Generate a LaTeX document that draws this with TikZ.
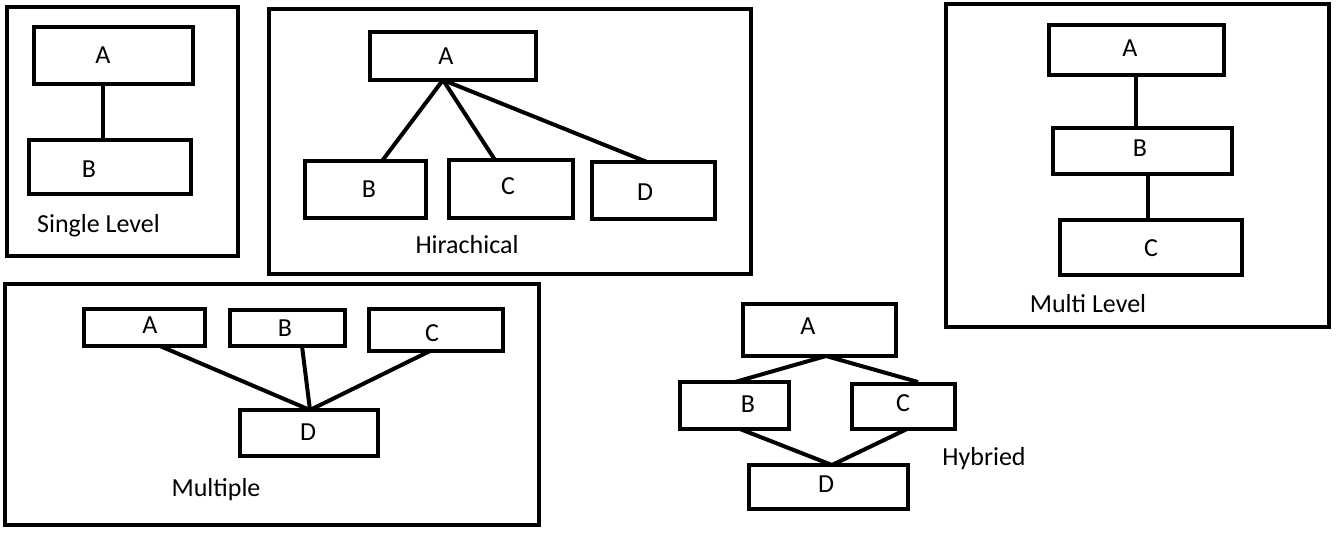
\documentclass[tikz,border=0pt]{standalone}
\usepackage{fontspec}
\setmainfont{Carlito}
\begin{document}
\begin{tikzpicture}[x=1pt,y=-1pt,
  frame/.style={draw=black,line width=4pt,rectangle,inner sep=0pt,outer sep=0pt,minimum width=#1},
  box/.style={draw=black,line width=4pt,rectangle,inner sep=0pt,outer sep=0pt},
  lbl/.style={anchor=base,inner sep=0pt,outer sep=0pt,font=\fontsize{26}{30}\selectfont},
  link/.style={draw=black,line width=4pt}]
\useasboundingbox (0,0) rectangle (1339,555);
% ---------- Single Level ----------
\node[box,minimum width=231pt,minimum height=249pt] (sF) at (122.5,131.5) {};
\node[box,minimum width=159pt,minimum height=57pt] (sA) at (113.5,55.5) {};
\node[box,minimum width=162pt,minimum height=54pt] (sB) at (110,167) {};
\node[lbl] (sAt) at (103,63) {A};
\node[lbl] (sBt) at (89,177) {B};
\node[lbl] (sT) at (98.5,232) {Single Level};
\draw[link] ([xshift=-10.5pt]sA.south) -- ([xshift=-7pt]sB.north);
% ---------- Hirachical ----------
\node[box,minimum width=482pt,minimum height=265pt] (hF) at (510,141.5) {};
\node[box,minimum width=166pt,minimum height=48pt] (hA) at (453,56) {};
\node[box,minimum width=121pt,minimum height=57pt] (hB) at (365.5,189.5) {};
\node[box,minimum width=124pt,minimum height=58pt] (hC) at (511,189) {};
\node[box,minimum width=123pt,minimum height=57pt] (hD) at (653.5,190.5) {};
\node[lbl] (hAt) at (446,64) {A};
\node[lbl] (hBt) at (369,197) {B};
\node[lbl] (hCt) at (508,194) {C};
\node[lbl] (hDt) at (645,200) {D};
\node[lbl] (hT) at (467,253) {Hirachical};
\coordinate (hApex) at ([xshift=-10pt]hA.south);
\draw[link] (hApex) -- ([xshift=16.5pt]hB.north);
\draw[link] (hApex) -- ([xshift=-16pt]hC.north);
\draw[link] (hApex) -- ([xshift=-6.5pt]hD.north);
% ---------- Multi Level ----------
\node[box,minimum width=383pt,minimum height=323pt] (mF) at (1137.5,165.5) {};
\node[box,minimum width=175pt,minimum height=50pt] (mA) at (1136.5,50) {};
\node[box,minimum width=179pt,minimum height=46pt] (mB) at (1142.5,151) {};
\node[box,minimum width=182pt,minimum height=55pt] (mC) at (1151,247.5) {};
\node[lbl] (mAt) at (1130,56) {A};
\node[lbl] (mBt) at (1140,156) {B};
\node[lbl] (mCt) at (1151,256) {C};
\node[lbl] (mT) at (1088,312) {Multi Level};
\draw[link] ([xshift=-0.5pt]mA.south) -- ([xshift=-6.5pt]mB.north);
\draw[link] ([xshift=5.5pt]mB.south) -- ([xshift=-3pt]mC.north);
% ---------- Multiple ----------
\node[box,minimum width=534pt,minimum height=241pt] (pF) at (272,404.5) {};
\node[box,minimum width=121pt,minimum height=37pt] (pA) at (144.5,327.5) {};
\node[box,minimum width=115pt,minimum height=36pt] (pB) at (287.5,328) {};
\node[box,minimum width=134pt,minimum height=42pt] (pC) at (436,330) {};
\node[box,minimum width=138pt,minimum height=46pt] (pD) at (309,433) {};
\node[lbl] (pAt) at (150,333) {A};
\node[lbl] (pBt) at (285,336) {B};
\node[lbl] (pCt) at (432,341) {C};
\node[lbl] (pDt) at (308,440) {D};
\node[lbl] (pT) at (216,496) {Multiple};
\coordinate (pApex) at ([xshift=1pt]pD.north);
\draw[link] ([xshift=15.5pt]pA.south) -- (pApex);
\draw[link] ([xshift=14.5pt]pB.south) -- (pApex);
\draw[link] ([xshift=-6pt]pC.south) -- (pApex);
% ---------- Hybried ----------
\node[box,minimum width=153pt,minimum height=52pt] (yA) at (819.5,330) {};
\node[box,minimum width=109pt,minimum height=47pt] (yB) at (734.5,405.5) {};
\node[box,minimum width=103pt,minimum height=45pt] (yC) at (903.5,406.5) {};
\node[box,minimum width=159pt,minimum height=44pt] (yD) at (828.5,487) {};
\node[lbl] (yAt) at (808,334) {A};
\node[lbl] (yBt) at (748,412) {B};
\node[lbl] (yCt) at (903,411) {C};
\node[lbl] (yDt) at (826,492) {D};
\node[lbl] (yT) at (984,465) {Hybried};
\coordinate (yApexA) at ([xshift=6.5pt]yA.south);
\coordinate (yApexD) at ([xshift=3.5pt]yD.north);
\draw[link] (yApexA) -- ([xshift=0.5pt]yB.north);
\draw[link] (yApexA) -- ([xshift=14.5pt,yshift=2pt]yC.north);
\draw[link] ([xshift=5.5pt]yB.south) -- (yApexD);
\draw[link] ([xshift=3.5pt]yC.south) -- (yApexD);
\end{tikzpicture}
\end{document}
